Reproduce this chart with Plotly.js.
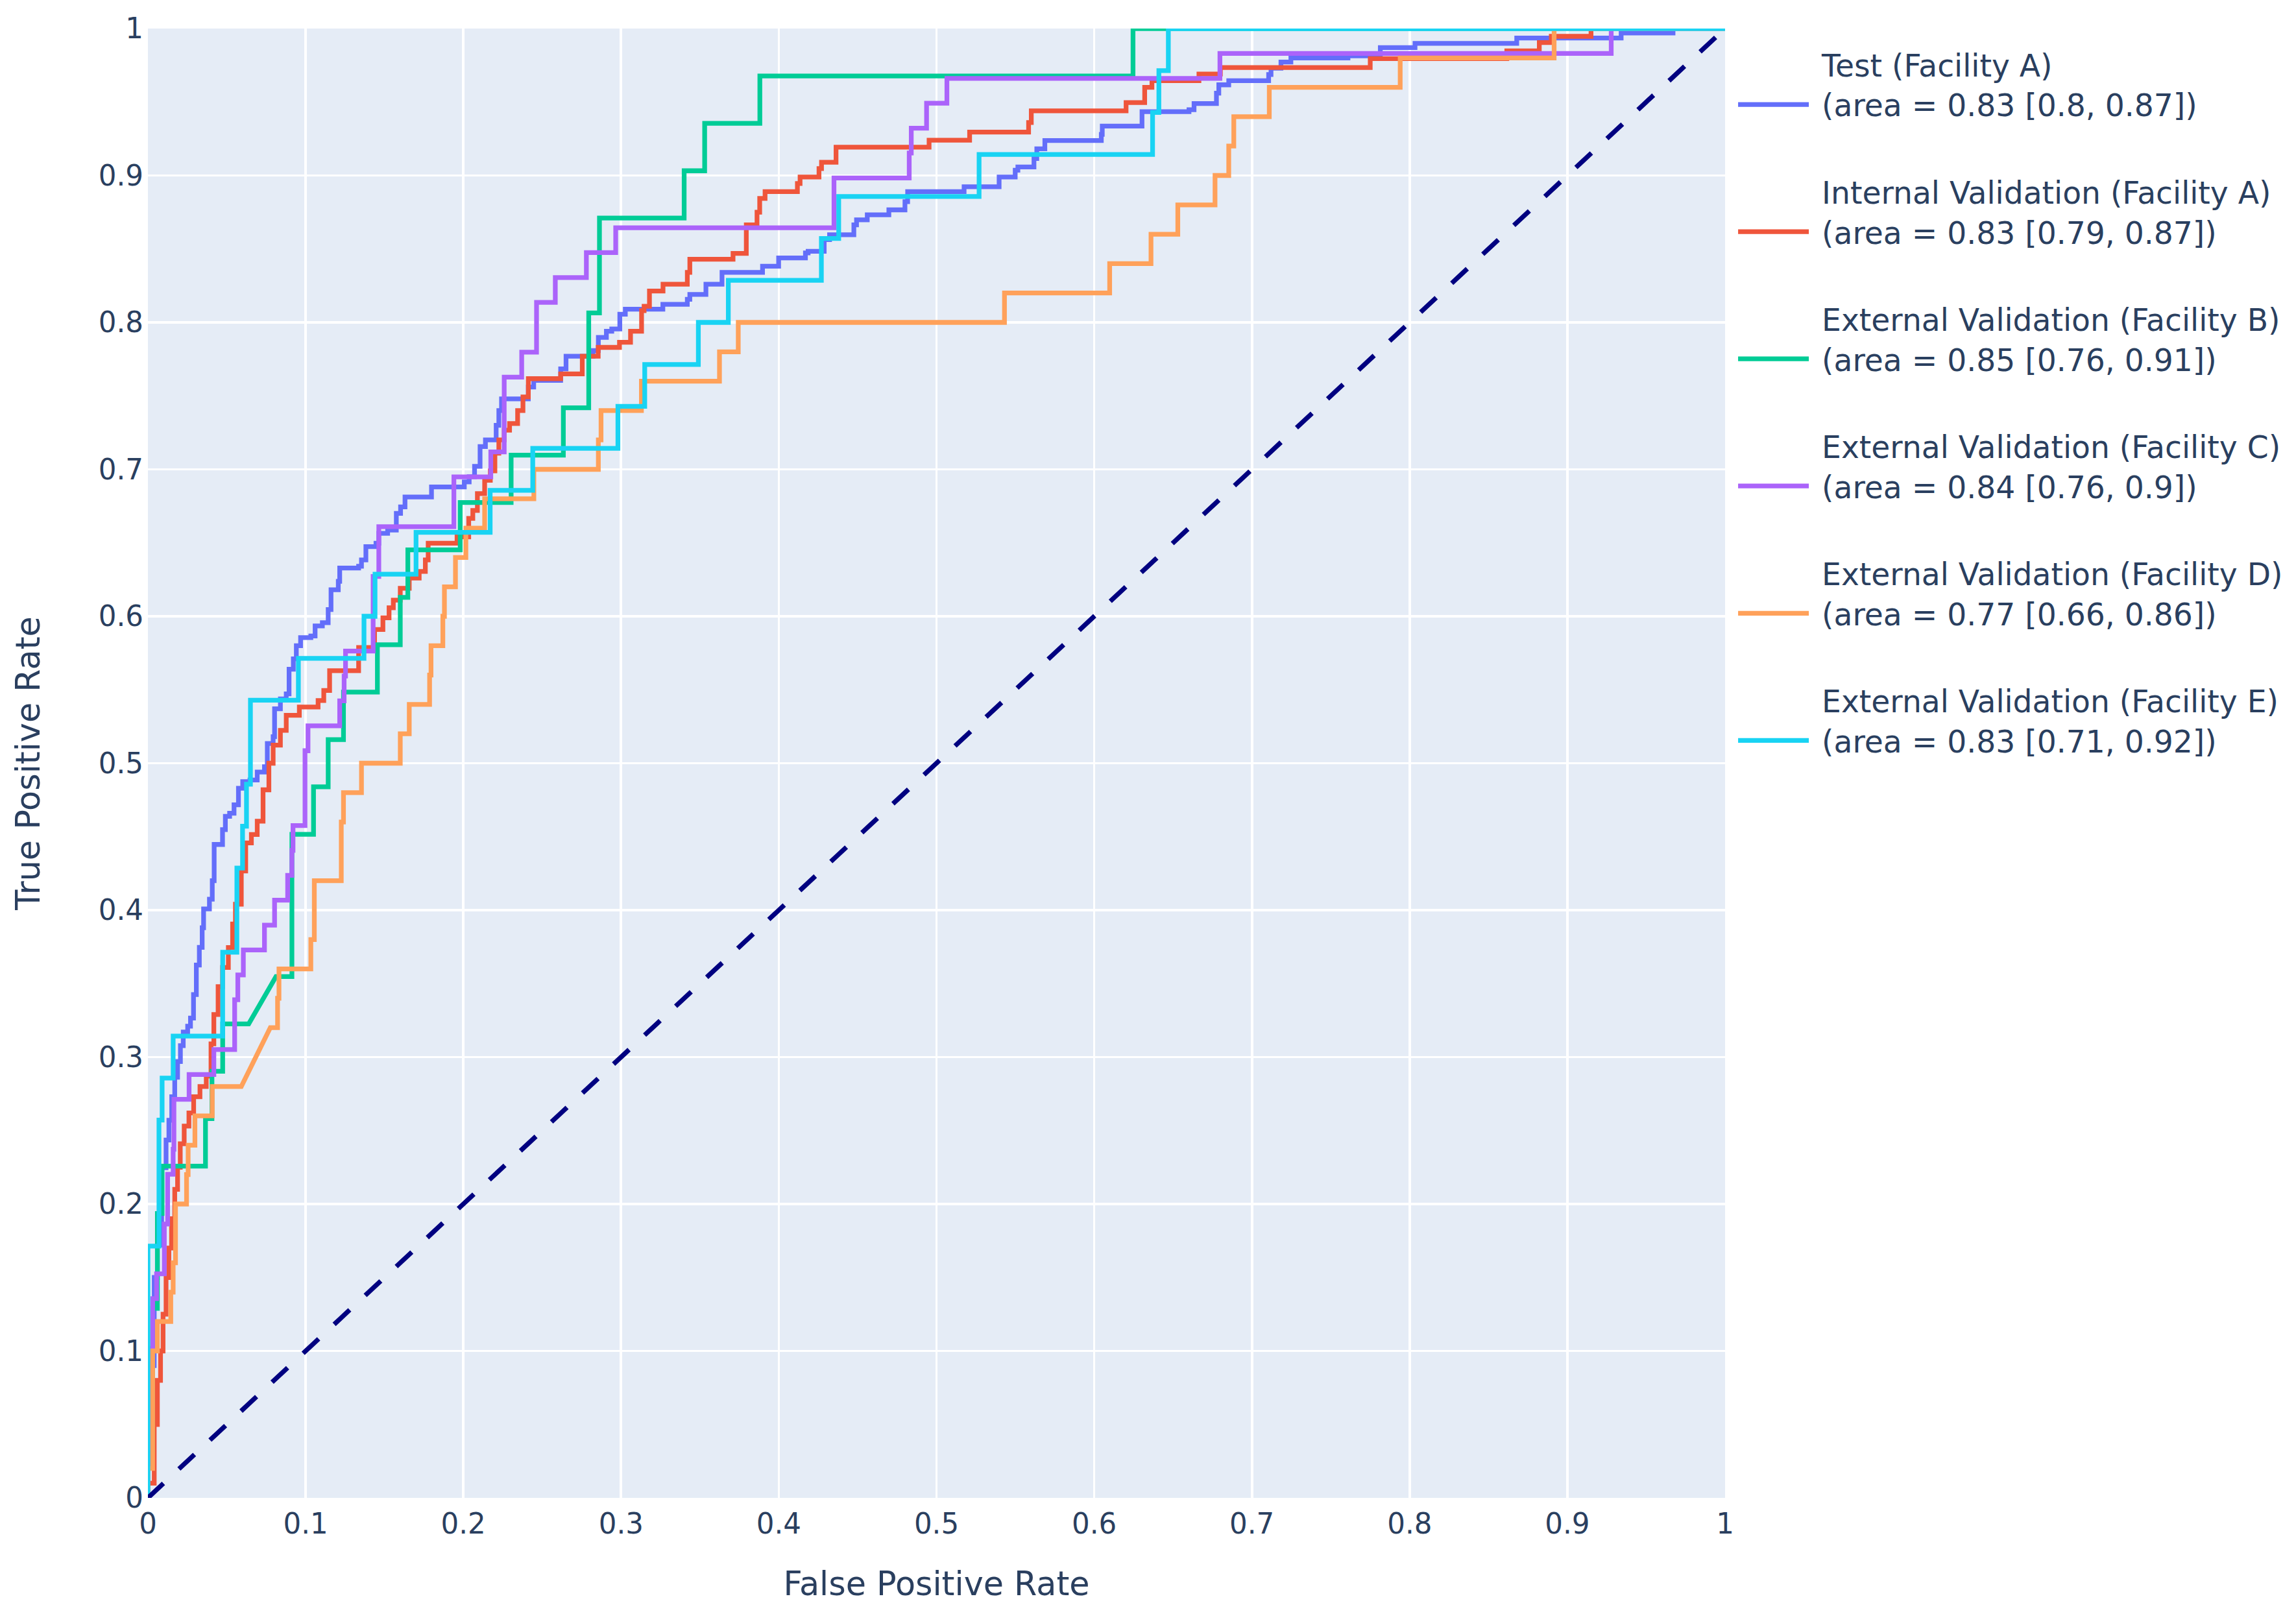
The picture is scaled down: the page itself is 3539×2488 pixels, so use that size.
<!DOCTYPE html>
<html><head><meta charset="utf-8">
<script src="https://cdn.plot.ly/plotly-3.0.1.min.js"></script>
<style>html,body{margin:0;padding:0;background:#fff;}#chart{width:3539px;height:2488px;}</style>
</head><body><div id="chart"></div>
<script>
// ---- data (FPR, TPR) ----
const seriesNames = ['Test (Facility A)', 'Internal Validation (Facility A)', 'External Validation (Facility B)',
  'External Validation (Facility C)', 'External Validation (Facility D)', 'External Validation (Facility E)'];
const aucValues = [0.83, 0.83, 0.85, 0.84, 0.77, 0.83];
const ciLow = [0.8, 0.79, 0.76, 0.76, 0.66, 0.71];
const ciHigh = [0.87, 0.87, 0.91, 0.9, 0.86, 0.92];

// step points (x where TPR rises, TPR after rise)
const testA = [[0,0],[0,0.06],[0.002,0.09],[0.004,0.15],[0.006,0.172],[0.0087,0.2247],[0.0115,0.2435],[0.0133,0.257],[0.0151,0.273],[0.017,0.2863],[0.0188,0.297],[0.0206,0.3078],[0.0224,0.317],[0.0252,0.321],[0.027,0.3265],[0.0289,0.3426],[0.0307,0.3626],[0.0326,0.3747],[0.0344,0.388],[0.0353,0.4008],[0.039,0.4075],[0.0408,0.42],[0.042,0.4447],[0.0473,0.4548],[0.0491,0.4638],[0.0518,0.466],[0.0546,0.4717],[0.0574,0.483],[0.0601,0.4875],[0.0647,0.4886],[0.0693,0.494],[0.0739,0.4976],[0.0757,0.5134],[0.0794,0.518],[0.0803,0.537],[0.084,0.5438],[0.0877,0.5472],[0.0895,0.564],[0.0922,0.571],[0.0941,0.58],[0.0968,0.5855],[0.1033,0.5866],[0.106,0.5934],[0.1106,0.5956],[0.1143,0.6046],[0.1161,0.618],[0.1207,0.6238],[0.1216,0.6328],[0.1336,0.634],[0.1354,0.6384],[0.1382,0.6474],[0.1446,0.6497],[0.1464,0.6565],[0.152,0.6587],[0.1575,0.67],[0.1602,0.6745],[0.163,0.6812],[0.1798,0.688],[0.2006,0.6914],[0.2037,0.695],[0.2071,0.702],[0.2106,0.7155],[0.214,0.72],[0.2208,0.73],[0.2225,0.74],[0.2242,0.748],[0.2412,0.756],[0.2446,0.7605],[0.2617,0.7684],[0.2651,0.777],[0.2822,0.7808],[0.2856,0.7898],[0.2907,0.794],[0.2941,0.7955],[0.2992,0.8056],[0.3027,0.809],[0.3265,0.8123],[0.342,0.8157],[0.3436,0.819],[0.3538,0.826],[0.364,0.834],[0.3897,0.8382],[0.3999,0.8439],[0.4169,0.8473],[0.4186,0.8484],[0.4288,0.8563],[0.4322,0.8597],[0.4476,0.8664],[0.4493,0.8698],[0.4561,0.8732],[0.4698,0.8766],[0.48,0.8822],[0.4817,0.889],[0.5175,0.8923],[0.5397,0.899],[0.5499,0.9036],[0.5516,0.9058],[0.5618,0.9115],[0.5636,0.9182],[0.5687,0.9238],[0.6045,0.928],[0.6051,0.9336],[0.6303,0.9434],[0.6601,0.9448],[0.6633,0.949],[0.6775,0.956],[0.679,0.9617],[0.6853,0.9645],[0.7106,0.9687],[0.7121,0.973],[0.7184,0.9772],[0.7247,0.98],[0.7609,0.9814],[0.7814,0.987],[0.8034,0.9899],[0.8679,0.9935],[0.9341,0.997],[0.967,1],[1,1]];
const internalA = [[0,0],[0,0.01],[0.004,0.05],[0.006,0.08],[0.008,0.1],[0.0096,0.125],[0.0115,0.15],[0.0133,0.17],[0.015,0.19],[0.017,0.21],[0.0188,0.225],[0.0205,0.241],[0.023,0.253],[0.026,0.262],[0.029,0.273],[0.033,0.28],[0.037,0.287],[0.04,0.309],[0.0418,0.329],[0.0445,0.348],[0.0473,0.361],[0.051,0.3746],[0.0537,0.3906],[0.0555,0.404],[0.0592,0.4267],[0.062,0.4458],[0.0656,0.4515],[0.0693,0.4605],[0.073,0.4819],[0.0767,0.5],[0.0794,0.5123],[0.084,0.5224],[0.0877,0.5326],[0.096,0.5382],[0.1079,0.5427],[0.1115,0.5495],[0.1152,0.563],[0.1336,0.5787],[0.1437,0.591],[0.149,0.599],[0.1529,0.6058],[0.1556,0.611],[0.16,0.619],[0.1657,0.626],[0.172,0.6305],[0.1759,0.6384],[0.1777,0.6497],[0.196,0.654],[0.2034,0.6666],[0.206,0.672],[0.2089,0.6835],[0.2135,0.6925],[0.2171,0.699],[0.22,0.711],[0.2225,0.72],[0.2259,0.7267],[0.2293,0.7312],[0.2344,0.74],[0.2378,0.7493],[0.2412,0.7617],[0.2617,0.765],[0.2754,0.777],[0.2855,0.783],[0.299,0.7865],[0.306,0.794],[0.313,0.808],[0.3146,0.811],[0.318,0.8214],[0.3266,0.826],[0.342,0.834],[0.3436,0.843],[0.371,0.847],[0.3794,0.8664],[0.3862,0.875],[0.3879,0.8844],[0.3913,0.889],[0.4118,0.8945],[0.4135,0.899],[0.4255,0.9047],[0.4271,0.909],[0.4363,0.9193],[0.4953,0.924],[0.521,0.9295],[0.5584,0.936],[0.5601,0.944],[0.6202,0.9496],[0.632,0.96],[0.6366,0.9645],[0.6664,0.969],[0.68,0.9735],[0.775,0.9795],[0.8616,0.9848],[0.8822,0.9905],[0.8898,0.9947],[0.915,1],[1,1]];
const facilityC = [[0,0],[0,0.0339],[0.002,0.1017],[0.003,0.1356],[0.0055,0.1525],[0.0104,0.1864],[0.0125,0.2203],[0.016,0.2373],[0.0165,0.2712],[0.0261,0.2881],[0.0418,0.3051],[0.055,0.339],[0.057,0.3559],[0.0605,0.3729],[0.0739,0.3898],[0.0803,0.4068],[0.0886,0.4237],[0.0913,0.4407],[0.092,0.4576],[0.0996,0.5085],[0.1015,0.5254],[0.1216,0.5424],[0.1244,0.5593],[0.1253,0.5763],[0.1428,0.6271],[0.1464,0.661],[0.194,0.6949],[0.2174,0.7119],[0.2259,0.7627],[0.237,0.7797],[0.2464,0.8136],[0.2583,0.8305],[0.278,0.8475],[0.2966,0.8644],[0.435,0.8983],[0.4827,0.9153],[0.484,0.9322],[0.4937,0.9492],[0.5066,0.9661],[0.6797,0.9831],[0.9278,1],[1,1]];
const facilityE = [[0,0],[0,0.1714],[0.007,0.2571],[0.009,0.2857],[0.016,0.3143],[0.0474,0.3714],[0.0564,0.4286],[0.06,0.4571],[0.0625,0.4857],[0.065,0.5429],[0.0954,0.5714],[0.137,0.6],[0.144,0.6286],[0.17,0.6571],[0.217,0.6857],[0.244,0.7143],[0.298,0.7429],[0.315,0.7714],[0.349,0.8],[0.368,0.8286],[0.427,0.8571],[0.438,0.8857],[0.527,0.9143],[0.637,0.9429],[0.641,0.9714],[0.647,1],[1,1]];
// vertex lists (contain sloped segments)
const facilityB = [[0,0],[0,0.0323],[0.003,0.0323],[0.003,0.129],[0.006,0.129],[0.006,0.1935],[0.009,0.1935],[0.009,0.2258],[0.0365,0.2258],[0.0365,0.2581],[0.0406,0.2581],[0.0406,0.2903],[0.0474,0.2903],[0.0474,0.3226],[0.0639,0.3226],[0.0812,0.3548],[0.0913,0.3548],[0.0913,0.4516],[0.105,0.4516],[0.105,0.4839],[0.1143,0.4839],[0.1143,0.5161],[0.124,0.5161],[0.124,0.5484],[0.1455,0.5484],[0.1455,0.5806],[0.16,0.5806],[0.16,0.6129],[0.1648,0.6129],[0.1648,0.6452],[0.198,0.6452],[0.198,0.6774],[0.2303,0.6774],[0.2303,0.7097],[0.2634,0.7097],[0.2634,0.7419],[0.2795,0.7419],[0.2795,0.8065],[0.2863,0.8065],[0.2863,0.871],[0.34,0.871],[0.34,0.9032],[0.353,0.9032],[0.353,0.9355],[0.388,0.9355],[0.388,0.9677],[0.6246,0.9677],[0.6246,1],[1,1]];
const facilityD = [[0,0],[0,0.02],[0.003,0.02],[0.003,0.1],[0.006,0.1],[0.006,0.12],[0.0145,0.12],[0.0145,0.14],[0.016,0.14],[0.016,0.16],[0.0175,0.16],[0.0175,0.2],[0.0245,0.2],[0.0245,0.22],[0.0255,0.22],[0.0255,0.24],[0.0298,0.24],[0.0298,0.26],[0.0408,0.26],[0.0408,0.28],[0.0592,0.28],[0.0776,0.32],[0.0822,0.32],[0.0822,0.34],[0.0831,0.34],[0.0831,0.36],[0.1033,0.36],[0.1033,0.38],[0.1055,0.38],[0.1055,0.42],[0.1226,0.42],[0.1226,0.46],[0.124,0.46],[0.124,0.48],[0.1354,0.48],[0.1354,0.5],[0.16,0.5],[0.16,0.52],[0.1657,0.52],[0.1657,0.54],[0.1786,0.54],[0.1786,0.56],[0.1795,0.56],[0.1795,0.58],[0.187,0.58],[0.187,0.6],[0.188,0.6],[0.188,0.62],[0.195,0.62],[0.195,0.64],[0.2016,0.64],[0.2016,0.66],[0.2135,0.66],[0.2135,0.68],[0.2447,0.68],[0.2447,0.7],[0.2856,0.7],[0.2856,0.72],[0.2873,0.72],[0.2873,0.74],[0.3129,0.74],[0.3129,0.76],[0.3624,0.76],[0.3624,0.78],[0.3743,0.78],[0.3743,0.8],[0.5431,0.8],[0.5431,0.82],[0.6098,0.82],[0.6098,0.84],[0.636,0.84],[0.636,0.86],[0.653,0.86],[0.653,0.88],[0.6766,0.88],[0.6766,0.9],[0.6853,0.9],[0.6853,0.92],[0.6885,0.92],[0.6885,0.94],[0.711,0.94],[0.711,0.96],[0.794,0.96],[0.794,0.98],[0.8916,0.98],[0.8916,1],[1,1]];
const chanceLine = [[0,0],[1,1]];

// ---- styling ----
const S = 3.63;
const colors = ['#636efa', '#EF553B', '#00cc96', '#ab63fa', '#FFA15A', '#19d3f3'];
const seriesData = [testA, internalA, facilityB, facilityC, facilityD, facilityE];
const lineShapes = ['hv', 'hv', 'linear', 'hv', 'linear', 'hv'];
const NB = '\u00a0'; // small gap between legend symbol and label

const traces = seriesData.map((pts, i) => ({
  type: 'scatter', mode: 'lines',
  x: pts.map(p => p[0]), y: pts.map(p => p[1]),
  name: NB + seriesNames[i] + '<br>' + NB + '(area = ' + aucValues[i] + ' [' + ciLow[i] + ', ' + ciHigh[i] + '])<br>',
  legendgroup: 'g' + i,
  line: {color: colors[i], width: 2 * S, shape: lineShapes[i]},
  hoverinfo: 'skip'
}));
traces.push({
  type: 'scatter', mode: 'lines',
  x: chanceLine.map(p => p[0]), y: chanceLine.map(p => p[1]),
  showlegend: false, hoverinfo: 'skip',
  line: {color: 'navy', width: 2 * S, dash: (9 * S).toFixed(1) + 'px,' + (9 * S).toFixed(1) + 'px'}
});

const axisCommon = {
  range: [0, 1], tick0: 0, dtick: 0.1,
  showgrid: true, gridcolor: '#ffffff', gridwidth: S,
  zeroline: false, showline: false, ticks: '',
  tickfont: {size: 12 * S, color: '#2a3f5f'},
  automargin: false
};

const layout = {
  width: 3539, height: 2488,
  margin: {l: 228, r: 880, t: 44, b: 179, pad: 0},
  paper_bgcolor: '#ffffff', plot_bgcolor: '#E5ECF6',
  font: {family: '"DejaVu Sans", Verdana, sans-serif', size: 12 * S, color: '#2a3f5f'},
  xaxis: Object.assign({}, axisCommon, {
    title: {text: 'False Positive Rate', font: {size: 14 * S, color: '#2a3f5f'}, standoff: 50},
    ticklabelstandoff: 10
  }),
  yaxis: Object.assign({}, axisCommon, {
    title: {text: 'True Positive Rate', font: {size: 14 * S, color: '#2a3f5f'}, standoff: 73},
    ticklabelstandoff: 6
  }),
  showlegend: true,
  legend: {
    x: 1.0062, y: 0.9918, xanchor: 'left', yanchor: 'top',
    font: {size: 13 * S, color: '#2a3f5f'},
    itemwidth: 109, tracegroupgap: 9,
    bgcolor: 'rgba(0,0,0,0)', borderwidth: 0
  }
};

Plotly.newPlot('chart', traces, layout, {displayModeBar: false, staticPlot: true});
</script></body></html>
